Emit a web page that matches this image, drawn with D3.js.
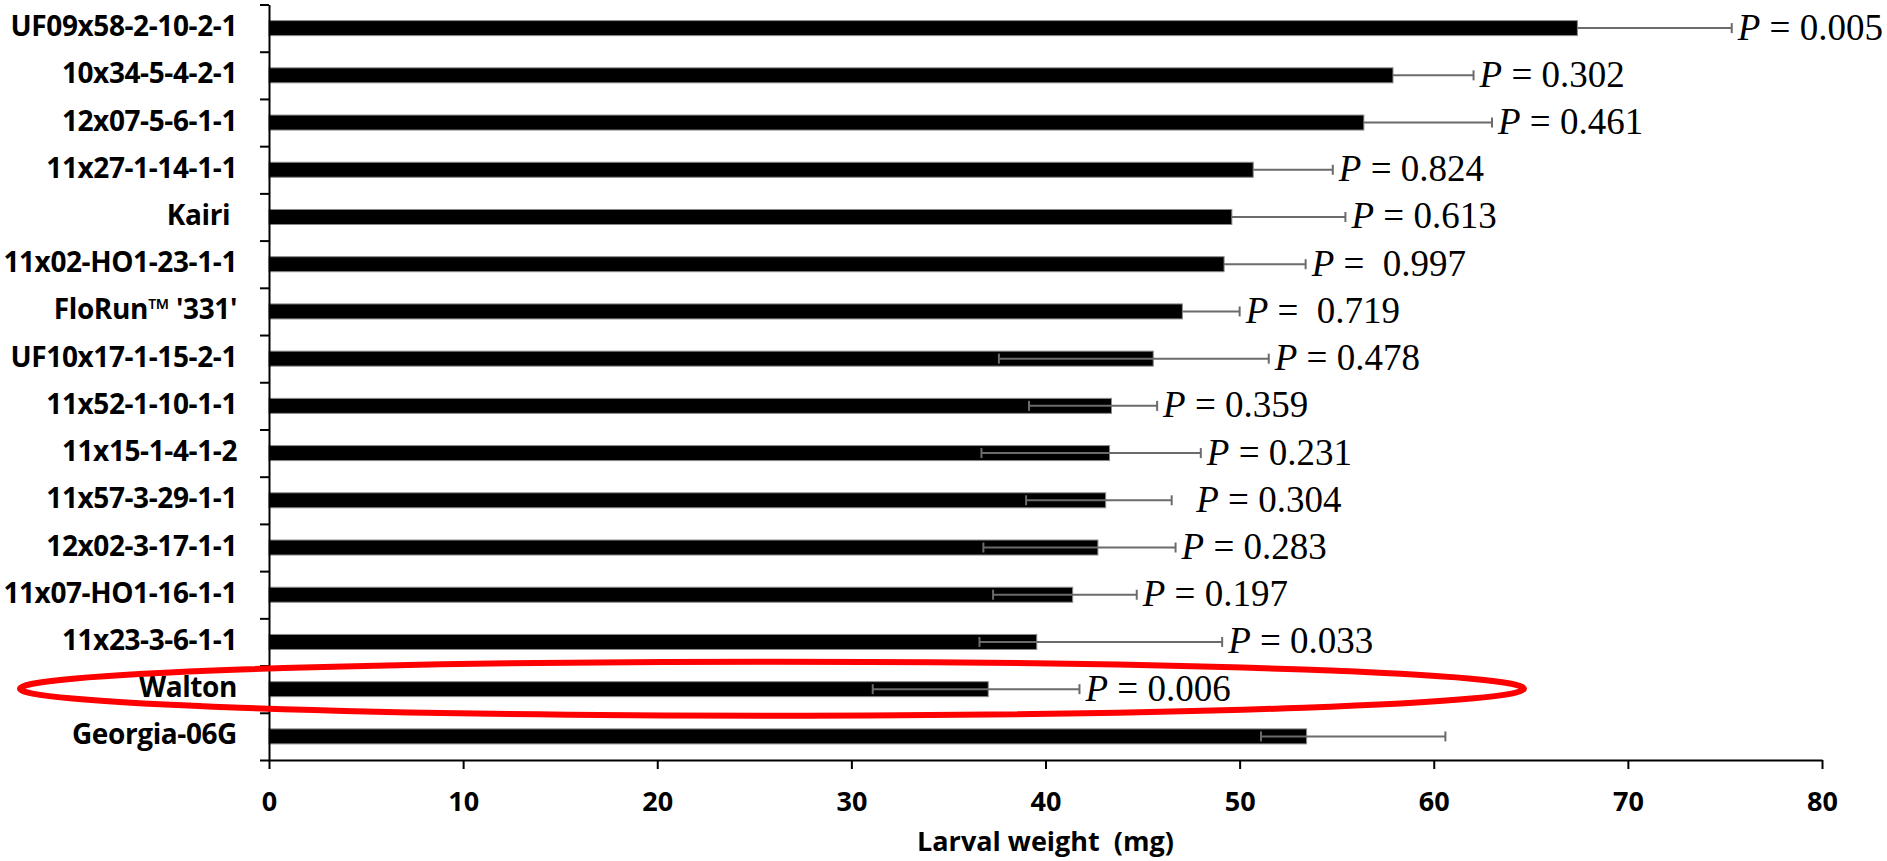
<!DOCTYPE html>
<html>
<head>
<meta charset="utf-8">
<script src="https://cdn.jsdelivr.net/npm/d3@7/dist/d3.min.js"></script>
<style>
  html, body { margin: 0; padding: 0; background: #fff; overflow: hidden; }
  svg { display: block; }
  text { white-space: pre; }
</style>
</head>
<body>
<svg id="chart" width="1887" height="861"></svg>
<script>
// ---- data ----
const categories = [
  "UF09x58-2-10-2-1", "10x34-5-4-2-1", "12x07-5-6-1-1", "11x27-1-14-1-1",
  "Kairi ", "11x02-HO1-23-1-1", "FloRun\u2122 '331'", "UF10x17-1-15-2-1",
  "11x52-1-10-1-1", "11x15-1-4-1-2", "11x57-3-29-1-1", "12x02-3-17-1-1",
  "11x07-HO1-16-1-1", "11x23-3-6-1-1", "Walton", "Georgia-06G"
];
const meanWeight = [67.4, 57.9, 56.4, 50.7, 49.6, 49.2, 47.05, 45.55, 43.4, 43.3, 43.1, 42.7, 41.4, 39.55, 37.05, 53.45];
const errorUpper = [75.35, 62.05, 63.0, 54.8, 55.45, 53.4, 50.0, 51.5, 45.75, 48.0, 46.5, 46.7, 44.7, 49.1, 41.75, 60.6];
const errorLower = [null, null, null, null, null, null, null, 37.6, 39.15, 36.7, 39.0, 36.8, 37.3, 36.6, 31.1, 51.1];
const pLabels = [
  "P = 0.005", "P = 0.302", "P = 0.461", "P = 0.824", "P = 0.613", "P =  0.997",
  "P =  0.719", "P = 0.478", "P = 0.359", "P = 0.231", "  P = 0.304", "P = 0.283",
  "P = 0.197", "P = 0.033", "P = 0.006", ""
];
const xTicks = [0, 10, 20, 30, 40, 50, 60, 70, 80];
const xTitle = "Larval weight  (mg)";
const highlighted = "Walton";

// ---- layout ----
const svg = d3.select("#chart");
const plotLeft = 269, plotRight = 1822, plotTop = 4.5, plotBottom = 760;
const sansBold = "'Open Sans', 'DejaVu Sans', sans-serif";
const serif = "'Liberation Serif', 'Times New Roman', serif";

const x = d3.scaleLinear().domain([0, 80]).range([plotLeft, plotRight]);
const y = d3.scaleBand().domain(d3.range(categories.length)).range([plotTop, plotBottom]).padding(0);
const yEdge = d3.scaleLinear().domain([0, categories.length]).range([plotTop, plotBottom]);
const barH = 15;
const rows = categories.map((c, i) => ({
  i, c, v: meanWeight[i], hi: errorUpper[i], lo: errorLower[i], p: pLabels[i]
}));
const cy = i => y(i) + y.bandwidth() / 2;

// bars
svg.append("g").selectAll("rect").data(rows).join("rect")
  .attr("x", x(0))
  .attr("y", d => cy(d.i) - barH / 2)
  .attr("width", d => x(d.v) - x(0))
  .attr("height", barH)
  .attr("fill", "#000")
  .attr("stroke", "#8a8a8a")
  .attr("stroke-width", 1);

// error bars
const eg = svg.append("g").attr("stroke", "#6b6b6b").attr("stroke-width", 2);
rows.forEach(d => {
  const start = d.lo == null ? d.v : d.lo;
  eg.append("line").attr("x1", x(start)).attr("x2", x(d.hi)).attr("y1", cy(d.i)).attr("y2", cy(d.i));
  eg.append("line").attr("x1", x(d.hi)).attr("x2", x(d.hi)).attr("y1", cy(d.i) - 5).attr("y2", cy(d.i) + 5);
  if (d.lo != null) {
    eg.append("line").attr("x1", x(d.lo)).attr("x2", x(d.lo)).attr("y1", cy(d.i) - 5).attr("y2", cy(d.i) + 5);
  }
});

// P value labels
const pg = svg.append("g").attr("font-family", serif).attr("font-size", 37).attr("fill", "#000");
rows.filter(d => d.p).forEach(d => {
  const m = d.p.match(/^(\s*)P(.*)$/);
  const t = pg.append("text").attr("x", x(d.hi) + 6).attr("y", cy(d.i) + 11.5);
  if (m[1]) t.append("tspan").text(m[1]);
  t.append("tspan").attr("font-style", "italic").text("P");
  t.append("tspan").text(m[2]);
});

// y axis (ticks at band edges)
const yAxis = svg.append("g").attr("transform", `translate(${plotLeft},0)`)
  .call(d3.axisLeft(yEdge).tickValues(d3.range(categories.length + 1)).tickFormat("").tickSize(9).tickSizeOuter(0));
yAxis.selectAll("path, line").attr("stroke", "#000").attr("stroke-width", 2);

// category labels
svg.append("g").selectAll("text").data(rows).join("text")
  .attr("x", 237)
  .attr("y", d => cy(d.i) + 8)
  .attr("text-anchor", "end")
  .attr("font-family", sansBold)
  .attr("font-weight", 700)
  .attr("font-size", 28)
  .attr("letter-spacing", -0.4)
  .attr("fill", "#000")
  .text(d => d.c);

// x axis
const xAxis = svg.append("g").attr("transform", `translate(0,${plotBottom})`)
  .call(d3.axisBottom(x).tickValues(xTicks).tickSize(9).tickSizeOuter(0));
xAxis.selectAll("path, line").attr("stroke", "#000").attr("stroke-width", 2);
xAxis.selectAll("text")
  .attr("y", 51).attr("dy", 0)
  .attr("font-family", sansBold).attr("font-weight", 700).attr("font-size", 27).attr("fill", "#000");

// x title
svg.append("text")
  .attr("x", (plotLeft + plotRight) / 2).attr("y", 851)
  .attr("text-anchor", "middle")
  .attr("font-family", sansBold).attr("font-weight", 700).attr("font-size", 27)
  .attr("fill", "#000")
  .text(xTitle);

// red highlight ellipse around Walton row
const hIdx = categories.indexOf(highlighted);
svg.append("ellipse")
  .attr("cx", 772).attr("cy", cy(hIdx) - 0.5)
  .attr("rx", 752).attr("ry", 27)
  .attr("fill", "none").attr("stroke", "#ff0000").attr("stroke-width", 6);
</script>
</body>
</html>
